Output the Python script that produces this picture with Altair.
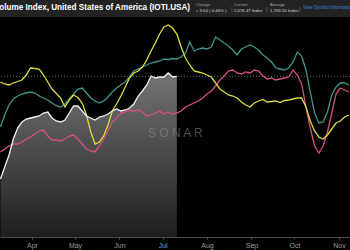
import altair as alt
import pandas as pd

# Sample dates: one reading every third day from Mar 10
dates = pd.date_range("2021-03-10", periods=82, freq="3D")

# Index values per series (same sampling as `dates`)
yellow = [2020, 2000, 1990, 2010, 2025, 2040, 2090, 2160, 2155, 2150,
          2090, 2020, 1950, 1905, 1860, 1770, 1840, 1890, 1865, 1810,
          1690, 1520, 1400, 1420, 1480, 1590, 1730, 1800, 1880, 1970,
          2060, 2110, 2130, 2170, 2240, 2330, 2410, 2500, 2570, 2590,
          2560, 2500, 2370, 2260, 2190, 2130, 2120, 2110, 2090, 2070,
          2010, 1950, 1920, 1890, 1880, 1860, 1820, 1790, 1770, 1810,
          1830, 1845, 1820, 1825, 1830, 1815, 1835, 1840, 1850, 1860,
          1860, 1770, 1630, 1530, 1470, 1450, 1490, 1550, 1610, 1630,
          1670, 1690]

teal = [1570, 1690, 1790, 1850, 1880, 1900, 1910, 1920, 1910, 1880,
        1860, 1840, 1810, 1780, 1770, 1800, 1850, 1900, 1950, 1960,
        1910, 1860, 1830, 1810, 1830, 1870, 1920, 1960, 1990, 2020,
        2070, 2130, 2150, 2170, 2190, 2210, 2220, 2230, 2250, 2245,
        2255, 2250, 2270, 2310, 2420, 2330, 2350, 2360, 2350, 2370,
        2470, 2440, 2410, 2380, 2340, 2290, 2350, 2370, 2390, 2370,
        2340, 2290, 2260, 2220, 2160, 2150, 2140, 2160, 2220, 2320,
        2280, 2140, 1920, 1710, 1610, 1620, 1720, 1890, 1970, 2010,
        2010, 1990]

pink = [1320, 1350, 1380, 1400, 1400, 1420, 1450, 1470, 1500, 1530,
        1540, 1480, 1440, 1440, 1430, 1450, 1480, 1490, 1450, 1400,
        1350, 1330, 1320, 1380, 1450, 1530, 1620, 1660, 1710, 1720,
        1740, 1730, 1740, 1720, 1680, 1690, 1710, 1730, 1700, 1720,
        1700, 1710, 1730, 1770, 1790, 1810, 1830, 1860, 1900, 1930,
        1980, 2040, 2080, 2130, 2140, 2110, 2100, 2120, 2110, 2140,
        2130, 2080, 2050, 2060, 2040, 2050, 2060, 2070, 2140, 2090,
        2000, 1770, 1560, 1380, 1310, 1380, 1520, 1710, 1900, 1960,
        1940, 1920]

# Current year, through Jul 11
white = [1050, 1170, 1290, 1450, 1560, 1620, 1650, 1660, 1670, 1680,
         1710, 1720, 1660, 1630, 1620, 1640, 1710, 1780, 1780, 1730,
         1680, 1660, 1640, 1670, 1680, 1700, 1730, 1750, 1730, 1740,
         1760, 1800, 1880, 1930, 1990, 2080, 2060, 2070, 2070, 2110,
         2070, 2076.47]

CURRENT = 2076.47
CHANGE = "9.64 ( 0.46% )"
AVERAGE = "1,763.50"

W, H = 350, 217
Y_MIN, Y_MAX = 470, 2640

x_scale = alt.Scale(domain=[alt.DateTime(year=2021, month=3, date=9, hours=17),
                            alt.DateTime(year=2021, month=11, date=8, hours=17)])
y_scale = alt.Scale(domain=[Y_MIN, Y_MAX], zero=False, nice=False)

x_axis = alt.Axis(format="%b", tickCount="month",
                  title=None, grid=False, labelColor="#9a9a9a", labelFontSize=7,
                  labelFont="Liberation Sans", domainColor="#4a4a4a",
                  tickColor="#4a4a4a", tickSize=2, labelPadding=2)


def series_df(vals):
    return pd.DataFrame({"date": dates[:len(vals)], "value": vals})


X = alt.X("date:T", scale=x_scale, axis=x_axis)
Y = alt.Y("value:Q", scale=y_scale, axis=None)

area = alt.Chart(series_df(white)).mark_area(
    color=alt.Gradient(gradient="linear",
                       stops=[alt.GradientStop(color="#747474", offset=0),
                              alt.GradientStop(color="#1e1e1e", offset=1)],
                       x1=1, x2=1, y1=0, y2=1)
).encode(x=X, y=Y, y2=alt.datum(Y_MIN))

ref_line = alt.Chart(pd.DataFrame({"value": [CURRENT]})).mark_rule(
    color="#6a6a6a", strokeDash=[1, 2], strokeWidth=1
).encode(y=Y)

watermark = alt.Chart(alt.Data(values=[{}])).mark_text(
    text="S O N A R", font="Liberation Sans", fontSize=12, color="#8c8c8c",
    opacity=0.55, align="left", baseline="middle"
).encode(x=alt.value(148), y=alt.value(113))


def line(vals, color):
    return alt.Chart(series_df(vals)).mark_line(
        color=color, strokeWidth=1.3
    ).encode(x=X, y=Y)


lines = [
    line(pink, "#d6507c"),
    line(teal, "#3f9688"),
    line(yellow, "#dcdc3a"),
    line(white, "#f2f2f2"),
]

# Header band with symbol name and summary figures
header_bg = alt.Chart(alt.Data(values=[{}])).mark_rect(color="#232323").encode(
    x=alt.value(0), x2=alt.value(W), y=alt.value(-20), y2=alt.value(-3))


def htext(text, x, y, size, color, weight="normal", align="left"):
    return alt.Chart(alt.Data(values=[{}])).mark_text(
        text=text, font="Liberation Sans", fontSize=size, color=color,
        fontWeight=weight, align=align, baseline="middle"
    ).encode(x=alt.value(x), y=alt.value(y))


header = [
    header_bg,
    htext("Volume Index, United States of America (IOTI.USA)", 190, -12, 8.15,
          "#ffffff", "bold", "right"),
    htext("Change", 196, -15, 4, "#a0a0a0"),
    htext("●", 196, -9, 3.5, "#3cc05a"),
    htext(CHANGE, 199.5, -9, 4.3, "#d0d0d0"),
    htext("|", 231, -11, 6, "#777777"),
    htext("Current", 234, -15, 4, "#a0a0a0"),
    htext(f"{CURRENT:,.2f} Index", 234, -9, 4.3, "#d0d0d0"),
    htext("|", 266, -11, 6, "#777777"),
    htext("Average", 270, -15, 4, "#a0a0a0"),
    htext(f"{AVERAGE} Index", 270, -9, 4.3, "#d0d0d0"),
    htext("|", 299, -11, 6, "#777777"),
    htext("View Symbol Information", 303, -12, 4.5, "#3d7fd6"),
]

chart = alt.layer(area, watermark, ref_line, *lines, *header).properties(
    width=W, height=H,
    autosize=alt.AutoSizeParams(type="none"),
    padding={"left": 0, "right": 0, "top": 20, "bottom": 13},
).configure(background="#000000").configure_view(strokeWidth=0, fill="#000000")

chart.save("out.html", embed_options={"renderer": "svg", "actions": False})
